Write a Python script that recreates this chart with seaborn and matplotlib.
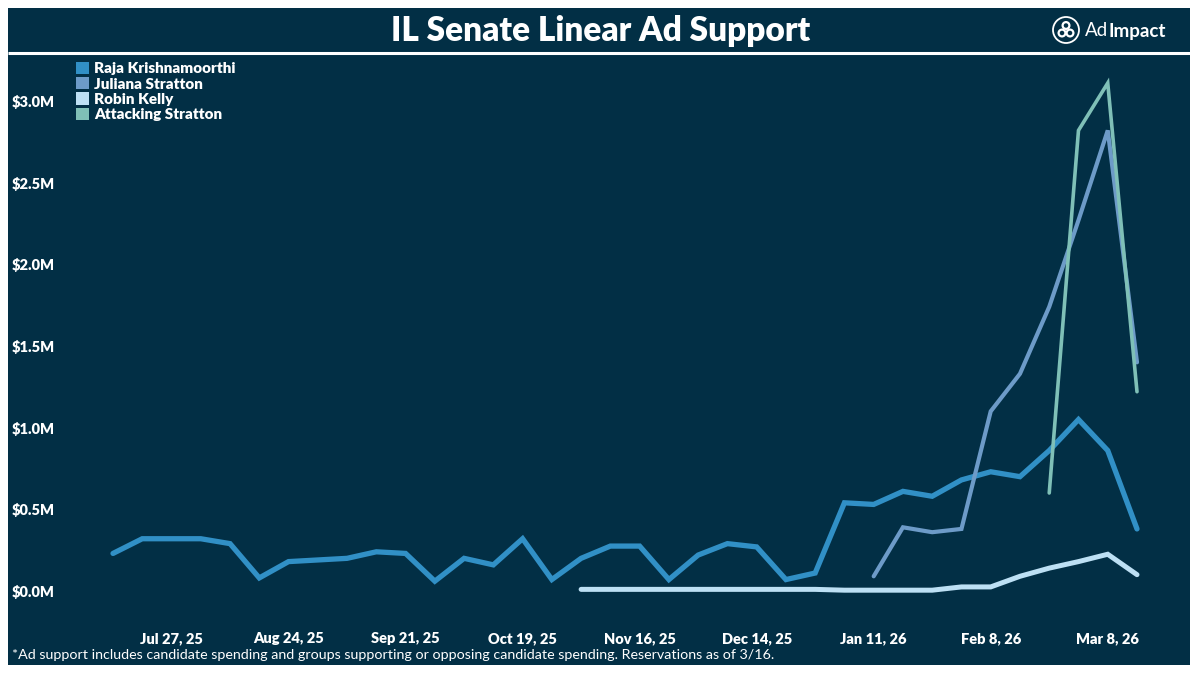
import matplotlib
matplotlib.use("Agg")
import matplotlib.pyplot as plt
import matplotlib.dates as mdates
from matplotlib.patches import Rectangle, Circle, Patch
import numpy as np
import pandas as pd
import seaborn as sns

# weekly ad support, $M (week of Jul 13, 25 .. Mar 15, 26)
weeks = pd.date_range("2025-07-13", "2026-03-15", freq="7D")
nan = np.nan

raja = [0.23, 0.32, 0.32, 0.32, 0.29, 0.08, 0.18, 0.19, 0.20, 0.24,
        0.23, 0.06, 0.20, 0.16, 0.32, 0.07, 0.20, 0.275, 0.275, 0.07,
        0.22, 0.29, 0.27, 0.07, 0.11, 0.54, 0.53, 0.61, 0.58, 0.68,
        0.73, 0.70, 0.86, 1.05, 0.86, 0.38]
juliana = [nan] * 26 + [0.09, 0.39, 0.36, 0.38, 1.10, 1.33, 1.74, 2.27, 2.82, 1.40]
robin = [nan] * 16 + [0.01] * 9 + [0.005, 0.005, 0.005, 0.005, 0.025, 0.025,
                                    0.09, 0.14, 0.18, 0.225, 0.10]
attacking = [nan] * 32 + [0.60, 2.82, 3.11, 1.22]

series_names = ["Raja Krishnamoorthi", "Juliana Stratton", "Robin Kelly", "Attacking Stratton"]
colors = ["#3190c6", "#6d9bc8", "#bde0f4", "#7fc0b7"]

tick_dates = pd.date_range("2025-07-27", periods=9, freq="28D")
tick_labels = ["Jul 27, 25", "Aug 24, 25", "Sep 21, 25", "Oct 19, 25", "Nov 16, 25",
               "Dec 14, 25", "Jan 11, 26", "Feb 8, 26", "Mar 8, 26"]
y_ticks = [0.0, 0.5, 1.0, 1.5, 2.0, 2.5, 3.0]

title = "IL Senate Linear Ad Support"
note = ("*Ad support includes candidate spending and groups supporting or opposing "
        "candidate spending. Reservations as of 3/16.")

df = pd.DataFrame({"week": weeks, series_names[0]: raja, series_names[1]: juliana,
                   series_names[2]: robin, series_names[3]: attacking})

sns.set_theme(style="white")
plt.rcParams["font.family"] = ["Lato", "DejaVu Sans"]

navy = "#022f45"
W, H = 1200, 675
fig = plt.figure(figsize=(12, 6.75), dpi=100, facecolor="white")

# background / frame in pixel coords
bg = fig.add_axes([0, 0, 1, 1], zorder=0)
bg.set_xlim(0, W)
bg.set_ylim(H, 0)
bg.axis("off")
bg.add_patch(Rectangle((8, 8), 1182, 657, color=navy, lw=0))
bg.plot([8, 1190], [53, 53], color="white", lw=2.2, solid_capstyle="butt")
bg.text(601, 31, title, color="white", fontsize=24, fontweight="heavy",
        ha="center", va="center")
bg.text(12, 655, note, color="white", fontsize=10.3, ha="left", va="center")

# AdImpact logo
bg.add_patch(Circle((1066, 30), 13, fill=False, ec="white", lw=1.3))
for dx, dy in [(0, -4.5), (-4, 3), (4, 3)]:
    bg.add_patch(Circle((1066 + dx, 30 + dy), 3.4, fill=False, ec="white", lw=1.6))
ad = bg.text(1085, 31, "Ad", color="white", fontsize=13.5, ha="left", va="center")
renderer = fig.canvas.get_renderer()
ad_right = bg.transData.inverted().transform(ad.get_window_extent(renderer))[1][0]
bg.text(ad_right + 0.2, 31, "Impact", color="white", fontsize=13.5, fontweight="bold",
        ha="left", va="center")

# chart axes
left, right, top, bottom = 95, 1160, 70, 610
ax = fig.add_axes([left / W, 1 - bottom / H, (right - left) / W, (bottom - top) / H], zorder=1)
ax.set_facecolor("none")

widths = [3.8, 3.0, 3.6, 2.6]
order = [2, 1, 3, 0]
for i in order:
    sns.lineplot(data=df, x="week", y=series_names[i], ax=ax, color=colors[i],
                 linewidth=widths[i], solid_capstyle="round", solid_joinstyle="miter",
                 zorder=2 + i)

# map data to the reference pixel layout
px_per_day = (1137 - 113) / (weeks[-1] - weeks[0]).days
x0 = mdates.date2num(weeks[0]) - (113 - left) / px_per_day
x1 = mdates.date2num(weeks[-1]) + (right - 1137) / px_per_day
ax.set_xlim(x0, x1)
px_per_m = (591 - 101) / 3.0
ax.set_ylim(-(bottom - 591) / px_per_m, 3.0 + (101 - top) / px_per_m)

ax.set_xticks(tick_dates)
ax.set_xticklabels(tick_labels)
ax.set_yticks(y_ticks)
ax.set_yticklabels([f"${v:.1f}M" for v in y_ticks])
ax.tick_params(axis="both", length=0, colors="white", labelsize=10.5)
ax.tick_params(axis="x", pad=16)
ax.tick_params(axis="y", pad=29)
for lab in ax.get_xticklabels() + ax.get_yticklabels():
    lab.set_fontweight("heavy")
ax.set_xlabel("")
ax.set_ylabel("")
sns.despine(ax=ax, left=True, bottom=True)

handles = [Patch(facecolor=c, edgecolor="none") for c in colors]
leg = ax.legend(handles, series_names, loc="upper left", bbox_to_anchor=(76 / W, 1 - 62 / H),
                bbox_transform=fig.transFigure, frameon=False, handlelength=0.85,
                handleheight=0.85, handletextpad=0.35, labelspacing=0.12,
                borderpad=0, borderaxespad=0, prop={"weight": "heavy", "size": 11})
for t in leg.get_texts():
    t.set_color("white")

fig.savefig("out.png", dpi=100, facecolor="white")
